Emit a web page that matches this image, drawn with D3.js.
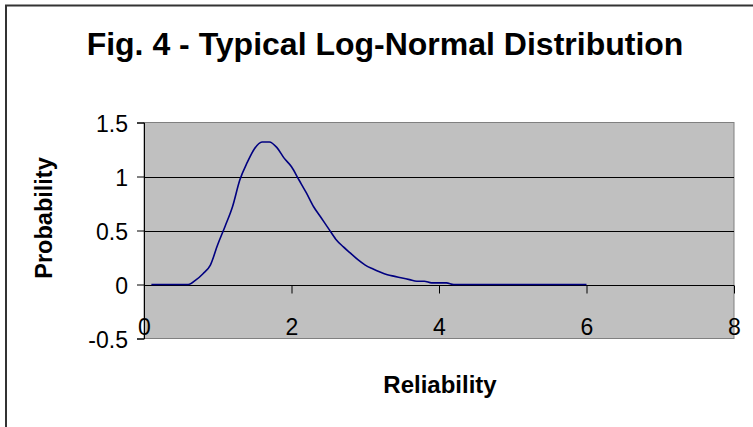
<!DOCTYPE html>
<meta charset="utf-8">
<style>
body { margin: 0; background: #fff; }
text { font-family: Arial, "Liberation Sans", sans-serif; }
</style>
<svg width="753" height="427"></svg>
<script src="https://cdn.jsdelivr.net/npm/d3@7"></script>
<script>

// values
var reliability = [0.1, 0.2, 0.3, 0.4, 0.5, 0.6, 0.7, 0.8, 0.9, 1.0,
                   1.1, 1.2, 1.3, 1.4, 1.5, 1.6, 1.7, 1.8, 1.9, 2.0,
                   2.1, 2.2, 2.3, 2.4, 2.5, 2.6, 2.7, 2.8, 2.9, 3.0,
                   3.1, 3.2, 3.3, 3.4, 3.5, 3.6, 3.7, 3.8, 3.9, 4.0,
                   4.1, 4.2, 4.5, 5.0, 5.5, 6.0];
var probability = [0, 0, 0, 0, 0, 0, 0.04, 0.10, 0.18, 0.37,
                   0.54, 0.72, 0.97, 1.13, 1.26, 1.32, 1.32, 1.27, 1.17, 1.09,
                   0.97, 0.85, 0.72, 0.62, 0.52, 0.42, 0.35, 0.29, 0.23, 0.18,
                   0.145, 0.115, 0.09, 0.075, 0.06, 0.045, 0.03, 0.03, 0.015, 0.015,
                   0.015, 0, 0, 0, 0, 0];
var xTicks = [0, 2, 4, 6, 8];
var yTicks = [-0.5, 0, 0.5, 1, 1.5];
var gridVals = [0.5, 1];

var svg = d3.select("svg");

// outer chart frame (cropped on right and bottom)
svg.append("rect")
    .attr("x", 6).attr("y", 5.5)
    .attr("width", 900).attr("height", 900)
    .attr("fill", "none")
    .attr("stroke", "#333")
    .attr("stroke-width", 2);

var x = d3.scaleLinear().domain([0, 8]).range([144, 734]);
var y = d3.scaleLinear().domain([-0.5, 1.5]).range([338.5, 122.5]);

// plot area
svg.append("rect")
    .attr("x", x(0)).attr("y", y(1.5))
    .attr("width", x(8) - x(0)).attr("height", y(-0.5) - y(1.5))
    .attr("fill", "#c0c0c0")
    .attr("stroke", "#808080")
    .attr("stroke-width", 1);

svg.append("g").selectAll("line")
    .data(gridVals)
    .enter().append("line")
    .attr("x1", x(0)).attr("x2", x(8))
    .attr("y1", function(d) { return Math.round(y(d)) + 0.5; })
    .attr("y2", function(d) { return Math.round(y(d)) + 0.5; })
    .attr("stroke", "#000");

// y axis
var yAxis = svg.append("g")
    .attr("transform", "translate(" + x(0) + ",0)")
    .call(d3.axisLeft(y).tickValues(yTicks).tickSize(7).tickPadding(9)
        .tickFormat(function(d) { return d; }));
yAxis.selectAll("text")
    .attr("font-size", 23)
    .attr("font-family", "Arial, 'Liberation Sans', sans-serif")
    .attr("fill", "#000")
    .attr("dy", "0.4em");

// x axis on the zero line
var xAxis = svg.append("g")
    .attr("transform", "translate(0," + (Math.round(y(0)) + 0.5) + ")")
    .call(d3.axisBottom(x).tickValues(xTicks).tickSize(8).tickPadding(0)
        .tickFormat(function(d) { return d; }));
xAxis.select(".domain").attr("d", "M" + x(0) + ",0H" + x(8));
xAxis.selectAll("text")
    .attr("font-size", 23)
    .attr("font-family", "Arial, 'Liberation Sans', sans-serif")
    .attr("fill", "#000")
    .attr("y", 49)
    .attr("dy", 0);

// the curve
var line = d3.line()
    .x(function(d, i) { return x(reliability[i]); })
    .y(function(d) { return y(d); })
    .curve(d3.curveMonotoneX);

svg.append("path")
    .datum(probability)
    .attr("d", line)
    .attr("fill", "none")
    .attr("stroke", "#000080")
    .attr("stroke-width", 1.6);

// titles
svg.append("text")
    .attr("x", 385).attr("y", 55)
    .attr("text-anchor", "middle")
    .attr("font-size", 32)
    .attr("font-weight", "bold")
    .text("Fig. 4 - Typical Log-Normal Distribution");

svg.append("text")
    .attr("x", 440).attr("y", 393)
    .attr("text-anchor", "middle")
    .attr("font-size", 24)
    .attr("font-weight", "bold")
    .text("Reliability");

svg.append("text")
    .attr("transform", "translate(52,218) rotate(-90)")
    .attr("text-anchor", "middle")
    .attr("font-size", 23.5)
    .attr("font-weight", "bold")
    .text("Probability");

</script>
